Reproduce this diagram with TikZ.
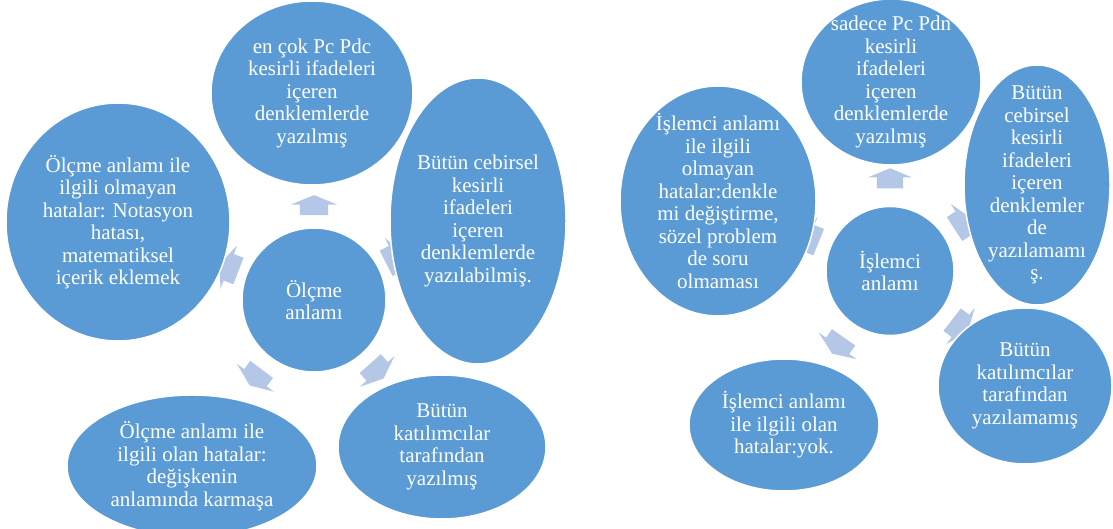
\documentclass[tikz,border=0pt]{standalone}
\usepackage{fontspec}
\setmainfont{Liberation Serif}
\usetikzlibrary{calc, shapes.geometric, shapes.arrows, backgrounds}
\definecolor{bubblefill}{HTML}{5B9BD5}
\definecolor{flowfill}{HTML}{B4C7E7}

\begin{document}
\begin{tikzpicture}[
    x=1pt, y=1pt,
    every node/.style={align=center, text=white, font=\fontsize{21}{22.5}\selectfont},
    bubble/.style={ellipse, fill=bubblefill, draw=white, line width=1.5pt, inner sep=-45pt},
    flow/.style={single arrow, fill=flowfill, draw=none, minimum height=20pt, inner xsep=0pt,
        inner ysep=14pt, single arrow head extend=9pt, single arrow tip angle=135}
]
\useasboundingbox (0,0) rectangle (1113,529);

\node[bubble, minimum width=144pt, minimum height=144pt] (olc) at (314,229) {Ölçme\\anlamı};
\begin{pgfonlayer}{background}
\node[flow, rotate=90] (olc-a1) at ($(olc)+(90:92)$) {};
\node[flow, rotate=27] (olc-a2) at ($(olc)+(27:88)$) {};
\node[flow, rotate=-48.5] (olc-a3) at ($(olc)+(-48.5:92)$) {};
\node[flow, rotate=-127] (olc-a4) at ($(olc)+(-127:94)$) {};
\node[flow, rotate=159] (olc-a5) at ($(olc)+(159:88)$) {};
\end{pgfonlayer}
\node[bubble, minimum width=202pt, minimum height=184pt] (olc-1) at (312,436)
    {en çok Pc Pdc\\kesirli ifadeleri\\içeren\\denklemlerde\\yazılmış};
\node[bubble, minimum width=176pt, minimum height=286pt] (olc-2) at (478,308)
    {Bütün cebirsel\\kesirli\\ifadeleri\\içeren\\denklemlerde\\yazılabilmiş.};
\node[bubble, minimum width=208pt, minimum height=144pt] (olc-3) at (442,82)
    {Bütün\\katılımcılar\\tarafından\\yazılmış};
\node[bubble, minimum width=250pt, minimum height=142pt] (olc-4) at (192,63)
    {Ölçme anlamı ile\\ilgili olan hatalar:\\değişkenin\\anlamında karmaşa};
\node[bubble, minimum width=224pt, minimum height=238pt] (olc-5) at (118,307)
    {Ölçme anlamı ile\\ilgili olmayan\\hatalar: Notasyon\\hatası,\\matematiksel\\içerik eklemek};

\node[bubble, minimum width=128pt, minimum height=129pt] (isl) at (890,258) {İşlemci\\anlamı};
\begin{pgfonlayer}{background}
\node[flow, rotate=90, inner ysep=13pt] (isl-a1) at ($(isl)+(90:90)$) {};
\node[flow, rotate=33] (isl-a2) at ($(isl)+(33:84)$) {};
\node[flow, rotate=-38] (isl-a3) at ($(isl)+(-38:86)$) {};
\node[flow, rotate=-125] (isl-a4) at ($(isl)+(-125:88)$) {};
\node[flow, rotate=158] (isl-a5) at ($(isl)+(158:84)$) {};
\end{pgfonlayer}
\node[bubble, minimum width=180pt, minimum height=166pt] (isl-1) at (891,447)
    {sadece Pc Pdn\\kesirli\\ifadeleri\\içeren\\denklemlerde\\yazılmış};
\node[bubble, minimum width=146pt, minimum height=240pt] (isl-2) at (1037,344)
    {Bütün\\cebirsel\\kesirli\\ifadeleri\\içeren\\denklemler\\de\\yazılamamı\\ş.};
\node[bubble, minimum width=174pt, minimum height=156pt] (isl-3) at (1025,143)
    {Bütün\\katılımcılar\\tarafından\\yazılamamış};
\node[bubble, minimum width=190pt, minimum height=132pt] (isl-4) at (784,104)
    {İşlemci anlamı\\ile ilgili olan\\hatalar:yok.};
\node[bubble, minimum width=196pt, minimum height=230pt] (isl-5) at (718,328)
    {İşlemci anlamı\\ile ilgili\\olmayan\\hatalar:denkle\\mi değiştirme,\\sözel problem\\de soru\\olmaması};
\end{tikzpicture}
\end{document}
